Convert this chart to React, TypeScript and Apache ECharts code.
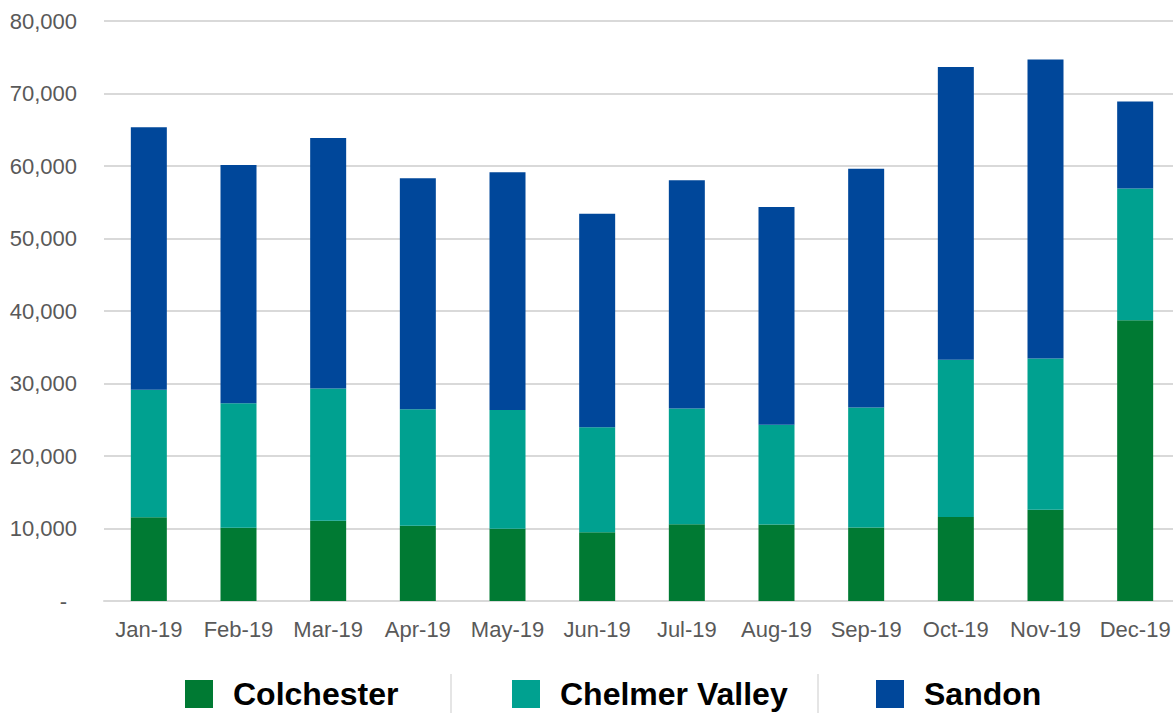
import React, { useEffect, useRef } from "react";
import * as echarts from "echarts";

const categories = ["Jan-19", "Feb-19", "Mar-19", "Apr-19", "May-19", "Jun-19", "Jul-19", "Aug-19", "Sep-19", "Oct-19", "Nov-19", "Dec-19"];
const colchester = [11560, 10090, 11060, 10370, 9950, 9470, 10600, 10550, 10140, 11600, 12600, 38730];
const chelmerValley = [17570, 17200, 18250, 16090, 16380, 14480, 15960, 13760, 16560, 21660, 20840, 18150];
const sandon = [36200, 32850, 34550, 31840, 32800, 29450, 31470, 30050, 32930, 40410, 41240, 12010];
const seriesNames = ["Colchester", "Chelmer Valley", "Sandon"];
const colors = ["#007A33", "#00A190", "#00479A"];

export default function App() {
  const ref = useRef<HTMLDivElement>(null);
  useEffect(() => {
    if (!ref.current) return;
    const chart = echarts.init(ref.current, null, { renderer: "svg" });
    const font = "'Liberation Sans', Arial, sans-serif";
    const mk = (name: string, data: number[], color: string) => ({
      name,
      type: "bar",
      stack: "total",
      barWidth: 36,
      data,
      itemStyle: { color },
    });
    const legendAt = (name: string, left: number) => ({
      data: [name],
      left,
      top: 678,
      padding: 0,
      itemWidth: 28,
      itemHeight: 28,
      itemGap: 0,
      icon: "rect",
      selectedMode: false,
      textStyle: { fontFamily: font, fontSize: 32, fontWeight: "bold", color: "#000", padding: [0, 0, 0, 15] },
    });
    chart.setOption({
      animation: false,
      textStyle: { fontFamily: font },
      color: colors,
      grid: { left: 104, right: 0, top: 21, bottom: 112, containLabel: false },
      legend: [legendAt(seriesNames[0], 185), legendAt(seriesNames[1], 512), legendAt(seriesNames[2], 876)],
      xAxis: {
        type: "category",
        data: categories,
        axisLine: { show: true, lineStyle: { color: "#d9d9d9", width: 2 } },
        axisTick: { show: false },
        axisLabel: { interval: 0, fontSize: 22, color: "#595959", margin: 17, fontFamily: font },
      },
      yAxis: {
        type: "value",
        min: 0,
        max: 80000,
        interval: 10000,
        axisLine: { show: false },
        axisTick: { show: false },
        splitLine: { lineStyle: { color: "#d9d9d9", width: 2 } },
        axisLabel: {
          fontSize: 22,
          color: "#595959",
          margin: 27,
          fontFamily: font,
          formatter: (v: number) => (v === 0 ? "{d|-}" : v.toLocaleString("en-US")),
          rich: { d: { fontSize: 22, color: "#595959", padding: [0, 10, 0, 0], fontFamily: font } },
        },
      },
      graphic: [
        { type: "line", shape: { x1: 451, y1: 674, x2: 451, y2: 713 }, style: { stroke: "#dddddd", lineWidth: 1.5 } },
        { type: "line", shape: { x1: 818, y1: 674, x2: 818, y2: 713 }, style: { stroke: "#dddddd", lineWidth: 1.5 } },
      ],
      series: [
        mk(seriesNames[0], colchester, colors[0]),
        mk(seriesNames[1], chelmerValley, colors[1]),
        mk(seriesNames[2], sandon, colors[2]),
      ],
    });
    return () => chart.dispose();
  }, []);
  return (
    <div
      ref={ref}
      style={{ position: "fixed", left: 0, top: 0, width: 1180, height: 713, background: "#fff" }}
    />
  );
}
